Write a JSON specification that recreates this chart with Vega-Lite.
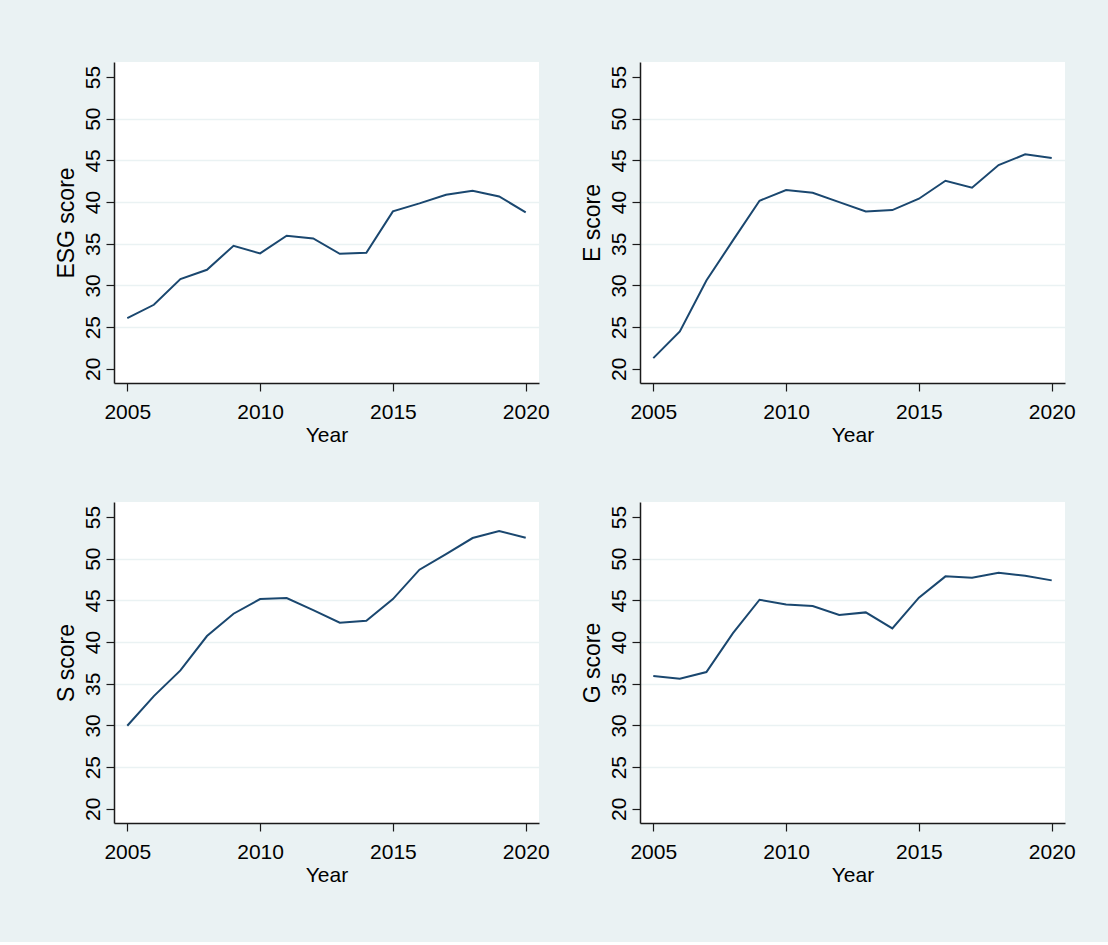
{
  "$schema": "https://vega.github.io/schema/vega-lite/v6.json",
  "background": "#eaf2f3",
  "padding": {"left": 54, "top": 62, "right": 38, "bottom": 57},
  "data": {
    "values": [
      {"year": 2005, "ESG": 26.08, "E": 21.28, "S": 29.96, "G": 35.92},
      {"year": 2006, "ESG": 27.68, "E": 24.48, "S": 33.52, "G": 35.6},
      {"year": 2007, "ESG": 30.76, "E": 30.6, "S": 36.6, "G": 36.4},
      {"year": 2008, "ESG": 31.88, "E": 35.4, "S": 40.72, "G": 41.08},
      {"year": 2009, "ESG": 34.76, "E": 40.16, "S": 43.4, "G": 45.08},
      {"year": 2010, "ESG": 33.84, "E": 41.44, "S": 45.16, "G": 44.52},
      {"year": 2011, "ESG": 35.96, "E": 41.12, "S": 45.28, "G": 44.32},
      {"year": 2012, "ESG": 35.64, "E": 40.0, "S": 43.84, "G": 43.24},
      {"year": 2013, "ESG": 33.8, "E": 38.88, "S": 42.32, "G": 43.56},
      {"year": 2014, "ESG": 33.92, "E": 39.04, "S": 42.56, "G": 41.64},
      {"year": 2015, "ESG": 38.88, "E": 40.4, "S": 45.16, "G": 45.32},
      {"year": 2016, "ESG": 39.84, "E": 42.56, "S": 48.68, "G": 47.88},
      {"year": 2017, "ESG": 40.88, "E": 41.72, "S": 50.56, "G": 47.72},
      {"year": 2018, "ESG": 41.36, "E": 44.44, "S": 52.48, "G": 48.32},
      {"year": 2019, "ESG": 40.68, "E": 45.72, "S": 53.32, "G": 47.96},
      {"year": 2020, "ESG": 38.76, "E": 45.28, "S": 52.52, "G": 47.4}
    ]
  },
  "columns": 2,
  "bounds": "flush",
  "spacing": {"row": 119, "column": 101},
  "concat": [
    {
      "width": 425, "height": 321,
      "mark": {"type": "line", "color": "#1a476f", "strokeWidth": 2},
      "encoding": {
        "x": {"field": "year", "type": "quantitative", "scale": {"domain": [2004.5, 2020.5], "nice": false, "zero": false}, "axis": {"values": [2005, 2010, 2015, 2020], "format": "d", "title": "Year"}},
        "y": {"field": "ESG", "type": "quantitative", "scale": {"domain": [18.3, 56.8], "nice": false, "zero": false}, "axis": {"values": [20, 25, 30, 35, 40, 45, 50, 55], "title": "ESG score", "gridOpacity": {"condition": {"test": "datum.value === 20 || datum.value === 55", "value": 0}, "value": 1}}}
      }
    },
    {
      "width": 425, "height": 321,
      "mark": {"type": "line", "color": "#1a476f", "strokeWidth": 2},
      "encoding": {
        "x": {"field": "year", "type": "quantitative", "scale": {"domain": [2004.5, 2020.5], "nice": false, "zero": false}, "axis": {"values": [2005, 2010, 2015, 2020], "format": "d", "title": "Year"}},
        "y": {"field": "E", "type": "quantitative", "scale": {"domain": [18.3, 56.8], "nice": false, "zero": false}, "axis": {"values": [20, 25, 30, 35, 40, 45, 50, 55], "title": "E score", "gridOpacity": {"condition": {"test": "datum.value === 20 || datum.value === 55", "value": 0}, "value": 1}}}
      }
    },
    {
      "width": 425, "height": 321,
      "mark": {"type": "line", "color": "#1a476f", "strokeWidth": 2},
      "encoding": {
        "x": {"field": "year", "type": "quantitative", "scale": {"domain": [2004.5, 2020.5], "nice": false, "zero": false}, "axis": {"values": [2005, 2010, 2015, 2020], "format": "d", "title": "Year"}},
        "y": {"field": "S", "type": "quantitative", "scale": {"domain": [18.3, 56.8], "nice": false, "zero": false}, "axis": {"values": [20, 25, 30, 35, 40, 45, 50, 55], "title": "S score", "gridOpacity": {"condition": {"test": "datum.value === 20 || datum.value === 55", "value": 0}, "value": 1}}}
      }
    },
    {
      "width": 425, "height": 321,
      "mark": {"type": "line", "color": "#1a476f", "strokeWidth": 2},
      "encoding": {
        "x": {"field": "year", "type": "quantitative", "scale": {"domain": [2004.5, 2020.5], "nice": false, "zero": false}, "axis": {"values": [2005, 2010, 2015, 2020], "format": "d", "title": "Year"}},
        "y": {"field": "G", "type": "quantitative", "scale": {"domain": [18.3, 56.8], "nice": false, "zero": false}, "axis": {"values": [20, 25, 30, 35, 40, 45, 50, 55], "title": "G score", "gridOpacity": {"condition": {"test": "datum.value === 20 || datum.value === 55", "value": 0}, "value": 1}}}
      }
    }
  ],
  "config": {
    "font": "Liberation Sans",
    "view": {"fill": "white", "stroke": null},
    "axis": {
      "domainColor": "#1a1a1a",
      "domainWidth": 1.5,
      "tickColor": "#1a1a1a",
      "tickWidth": 1.2,
      "tickSize": 8,
      "labelFont": "Liberation Sans",
      "titleFont": "Liberation Sans",
      "labelFontSize": 21,
      "labelColor": "#000000",
      "titleColor": "#000000",
      "titleFontWeight": "normal",
      "gridColor": "#eaf2f3",
      "gridWidth": 1.5
    },
    "axisX": {"grid": false, "labelPadding": 10, "titleFontSize": 21, "titlePadding": 2, "labelFlush": false, "labelOverlap": false},
    "axisY": {"grid": true, "labelAngle": -90, "labelAlign": "center", "labelBaseline": "bottom", "labelPadding": 3, "titleFontSize": 23, "titlePadding": 4, "labelOverlap": false}
  }
}
